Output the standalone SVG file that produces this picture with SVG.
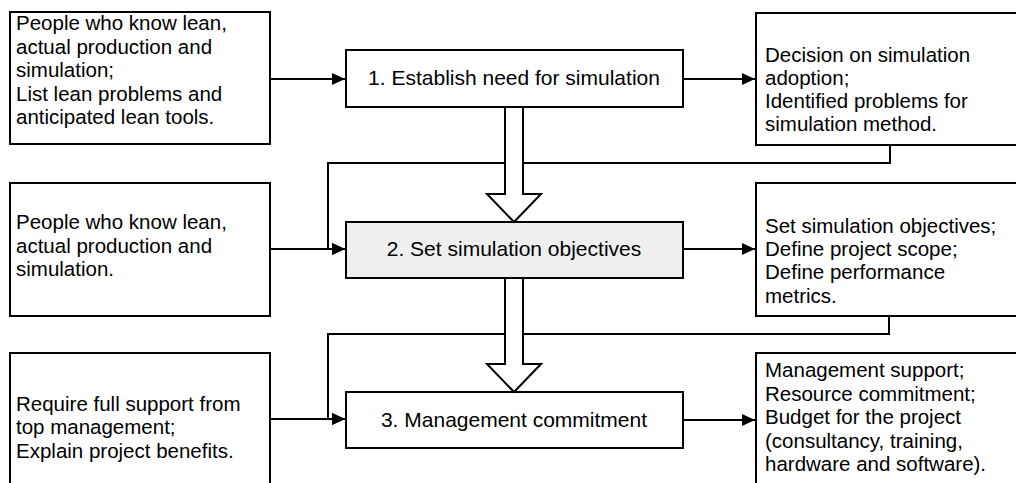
<svg xmlns="http://www.w3.org/2000/svg" width="1016" height="483" viewBox="0 0 1016 483">
  <style>
    .box { fill: #ffffff; stroke: #000000; stroke-width: 2; }
    .step { fill: #ffffff; stroke: #000000; stroke-width: 2; }
    .shaded { fill: #efefef; }
    .side { font-family: "Liberation Sans", Arial, sans-serif; font-size: 20.5px; fill: #000000; }
    .main { font-family: "Liberation Sans", Arial, sans-serif; font-size: 21px; fill: #000000; text-anchor: middle; }
    .link { fill: none; stroke: #000000; stroke-width: 2; }
    .flow { fill: #ffffff; stroke: #000000; stroke-width: 2; stroke-linejoin: miter; }
  </style>
  <defs>
    <marker id="tri" markerUnits="userSpaceOnUse" markerWidth="14" markerHeight="14" viewBox="0 0 14 14" refX="13" refY="7" orient="auto">
      <path d="M0,1 L13,7 L0,13 Z" fill="#000000"/>
    </marker>
  </defs>

  <rect width="1016" height="483" fill="#ffffff"/>

  <!-- inputs -->
  <g id="input-1">
    <rect class="box" x="10" y="12" width="260" height="132"/>
    <text class="side" x="16" y="30">People who know lean,</text>
    <text class="side" x="16" y="53.5">actual production and</text>
    <text class="side" x="16" y="77">simulation;</text>
    <text class="side" x="16" y="100.5">List lean problems and</text>
    <text class="side" x="16" y="124">anticipated lean tools.</text>
  </g>
  <g id="input-2">
    <rect class="box" x="10" y="183" width="260" height="133"/>
    <text class="side" x="16" y="229">People who know lean,</text>
    <text class="side" x="16" y="252.5">actual production and</text>
    <text class="side" x="16" y="276">simulation.</text>
  </g>
  <g id="input-3">
    <rect class="box" x="10" y="353" width="260" height="140"/>
    <text class="side" x="16" y="410.5">Require full support from</text>
    <text class="side" x="16" y="434">top management;</text>
    <text class="side" x="16" y="457.5">Explain project benefits.</text>
  </g>

  <!-- steps -->
  <g id="step-1">
    <rect class="step" x="346" y="50" width="337" height="57"/>
    <text class="main" x="514" y="85">1. Establish need for simulation</text>
  </g>
  <g id="step-2">
    <rect class="step shaded" x="346" y="222" width="337" height="56"/>
    <text class="main" x="514" y="256">2. Set simulation objectives</text>
  </g>
  <g id="step-3">
    <rect class="step" x="346" y="392" width="337" height="56"/>
    <text class="main" x="514" y="426.5">3. Management commitment</text>
  </g>

  <!-- outputs -->
  <g id="output-1">
    <rect class="box" x="756" y="13" width="270" height="132"/>
    <text class="side" x="765" y="62">Decision on simulation</text>
    <text class="side" x="765" y="85">adoption;</text>
    <text class="side" x="765" y="108">Identified problems for</text>
    <text class="side" x="765" y="131">simulation method.</text>
  </g>
  <g id="output-2">
    <rect class="box" x="756" y="183" width="270" height="133"/>
    <text class="side" x="765" y="233">Set simulation objectives;</text>
    <text class="side" x="765" y="256">Define project scope;</text>
    <text class="side" x="765" y="279">Define performance</text>
    <text class="side" x="765" y="302.5">metrics.</text>
  </g>
  <g id="output-3">
    <rect class="box" x="756" y="353" width="270" height="140"/>
    <text class="side" x="765" y="377">Management support;</text>
    <text class="side" x="765" y="400.5">Resource commitment;</text>
    <text class="side" x="765" y="424">Budget for the project</text>
    <text class="side" x="765" y="447.5">(consultancy, training,</text>
    <text class="side" x="765" y="471">hardware and software).</text>
  </g>

  <!-- connectors -->
  <g id="connectors">
    <path class="link" d="M271,79 H345" marker-end="url(#tri)"/>
    <path class="link" d="M683,79 H755" marker-end="url(#tri)"/>
    <path class="link" d="M890,145 V163 H328 V249 H345" marker-end="url(#tri)"/>
    <path class="link" d="M271,249 H345" marker-end="url(#tri)"/>
    <path class="link" d="M683,249 H755" marker-end="url(#tri)"/>
    <path class="link" d="M889,316 V334 H328 V419 H345" marker-end="url(#tri)"/>
    <path class="link" d="M271,419 H345" marker-end="url(#tri)"/>
    <path class="link" d="M683,420 H755" marker-end="url(#tri)"/>
    <!-- hollow block arrows between steps -->
    <polygon class="flow" points="505,107 523,107 523,194 541,194 514,222 487,194 505,194"/>
    <polygon class="flow" points="505,278 523,278 523,364 541,364 514,392 487,364 505,364"/>
  </g>
</svg>
